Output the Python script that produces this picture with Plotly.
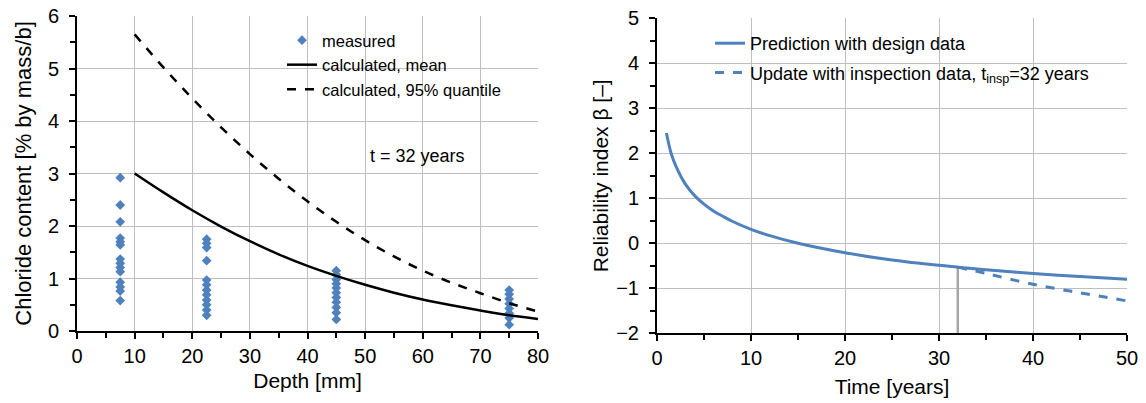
import plotly.graph_objects as go

W, H = 1146, 403

# ---------------- data ----------------
depth_groups = [7.5, 22.5, 45, 75]
measured = [
    [2.92, 2.40, 2.08, 1.77, 1.70, 1.64, 1.37, 1.29, 1.21, 1.13, 0.93, 0.84, 0.76, 0.58],
    [1.75, 1.67, 1.59, 1.34, 0.97, 0.88, 0.78, 0.69, 0.59, 0.50, 0.40, 0.30],
    [1.15, 1.07, 0.98, 0.90, 0.82, 0.73, 0.64, 0.55, 0.45, 0.35, 0.22],
    [0.78, 0.70, 0.61, 0.52, 0.43, 0.34, 0.25, 0.12],
]
calc_depth = [10, 15, 20, 25, 30, 35, 40, 45, 50, 55, 60, 65, 70, 75, 80]
calc_mean = [3.00, 2.64, 2.30, 1.99, 1.71, 1.46, 1.24, 1.05, 0.88, 0.73, 0.60, 0.49, 0.39, 0.30, 0.23]
calc_q95 = [5.65, 5.02, 4.43, 3.88, 3.37, 2.90, 2.47, 2.08, 1.73, 1.42, 1.15, 0.92, 0.72, 0.53, 0.37]

time_design = [1, 1.5, 2, 3, 4, 5, 6, 7, 8, 10, 12, 15, 20, 25, 30, 32, 35, 40, 45, 50]
beta_design = [2.45, 2.0, 1.72, 1.32, 1.06, 0.87, 0.72, 0.60, 0.49, 0.31, 0.17, 0.0,
               -0.21, -0.37, -0.49, -0.53, -0.59, -0.67, -0.74, -0.80]
time_update = [32, 35, 40, 45, 50]
beta_update = [-0.53, -0.67, -0.91, -1.10, -1.28]
t_insp = 32
t_insp_line_y = [-2, -0.53]

BLUE = "#4F81BD"
FONT = "Liberation Sans"

fig = go.Figure()

# left chart
xs, ys = [], []
for d, vals in zip(depth_groups, measured):
    xs += [d] * len(vals)
    ys += vals
fig.add_trace(go.Scatter(x=xs, y=ys, mode="markers", name="measured",
                         marker=dict(symbol="diamond", size=7.5, color=BLUE),
                         xaxis="x", yaxis="y", legend="legend"))
fig.add_trace(go.Scatter(x=calc_depth, y=calc_mean, mode="lines", name="calculated, mean",
                         line=dict(color="black", width=2.5, shape="spline"),
                         xaxis="x", yaxis="y", legend="legend"))
fig.add_trace(go.Scatter(x=calc_depth, y=calc_q95, mode="lines", name="calculated, 95% quantile",
                         line=dict(color="black", width=2.5, dash="dash", shape="spline"),
                         xaxis="x", yaxis="y", legend="legend"))

# right chart
fig.add_trace(go.Scatter(x=[t_insp, t_insp], y=t_insp_line_y, mode="lines", showlegend=False,
                         line=dict(color="#A6A6A6", width=2.5),
                         xaxis="x2", yaxis="y2"))
fig.add_trace(go.Scatter(x=time_design, y=beta_design, mode="lines",
                         name="Prediction with design data", legendgroup="g1",
                         line=dict(color=BLUE, width=3, shape="spline"),
                         xaxis="x2", yaxis="y2", legend="legend2"))
fig.add_trace(go.Scatter(x=time_update, y=beta_update, mode="lines",
                         name="Update with inspection data, t<sub>insp</sub>=32 years",
                         legendgroup="g2",
                         line=dict(color=BLUE, width=3, dash="dash", shape="spline"),
                         xaxis="x2", yaxis="y2", legend="legend2"))

def px(x):
    return x / W

def py(y):
    return 1 - y / H

axis_common = dict(
    showline=True, linecolor="black", linewidth=2,
    ticks="outside", ticklen=6, tickwidth=2, tickcolor="black",
    showgrid=True, gridcolor="#BFBFBF", gridwidth=1,
    zeroline=False, tickfont=dict(family=FONT, size=20, color="black"),
    minor=dict(ticks="outside", ticklen=5, tickwidth=2, tickcolor="black", showgrid=False),
    fixedrange=True, automargin=False,
)

fig.update_layout(
    width=W, height=H, autosize=False,
    margin=dict(l=0, r=0, t=0, b=0, pad=0, autoexpand=False),
    paper_bgcolor="white", plot_bgcolor="white",
    font=dict(family=FONT, color="black"),
    xaxis=dict(domain=[px(77), px(538)], range=[0, 80], dtick=10, anchor="y",
               minor_dtick=5, ticklabelstandoff=0,
               title=dict(text="Depth [mm]", font=dict(size=21), standoff=7),
               **axis_common),
    yaxis=dict(domain=[py(331), py(16)], range=[0, 6], dtick=1, anchor="x",
               minor_dtick=0.5, ticklabelstandoff=6,
               title=dict(text="Chloride content [% by mass/b]", font=dict(size=22), standoff=10),
               **axis_common),
    xaxis2=dict(domain=[px(657), px(1127)], range=[0, 50], dtick=10, anchor="y2",
                minor_dtick=5, ticklabelstandoff=0,
                title=dict(text="Time [years]", font=dict(size=21), standoff=11),
                **axis_common),
    yaxis2=dict(domain=[py(333.3), py(18.3)], range=[-2, 5], dtick=1, anchor="x2",
                minor_dtick=0.5, ticklabelstandoff=6,
                title=dict(text="Reliability index β [–]", font=dict(size=21), standoff=2),
                **axis_common),
    legend=dict(x=px(282), y=py(23), xanchor="left", yanchor="top",
                font=dict(family=FONT, size=16.5, color="black"),
                bgcolor="rgba(255,255,255,0)", borderwidth=0, tracegroupgap=0),
    legend2=dict(x=px(710), y=py(25), xanchor="left", yanchor="top",
                 font=dict(family=FONT, size=18, color="black"),
                 bgcolor="rgba(255,255,255,0)", borderwidth=0, tracegroupgap=3),
    annotations=[dict(text="t = 32 years", xref="paper", yref="paper",
                      x=px(417), y=py(156), showarrow=False,
                      font=dict(family=FONT, size=18, color="black"))],
)

fig.write_html("out.html")
